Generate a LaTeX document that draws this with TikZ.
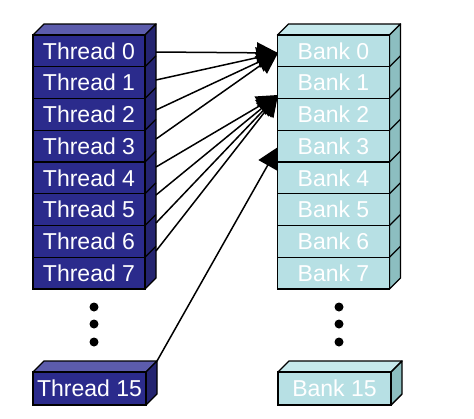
\documentclass[tikz,border=0pt]{standalone}
\usepackage{fontspec}
\setmainfont{Liberation Sans}
\usetikzlibrary{arrows.meta}
\definecolor{thfront}{RGB}{43,43,140}
\definecolor{thtop}{RGB}{92,92,172}
\definecolor{thside}{RGB}{36,36,112}
\definecolor{bkfront}{RGB}{183,224,228}
\definecolor{bktop}{RGB}{198,233,236}
\definecolor{bkside}{RGB}{140,190,192}
\begin{document}
\begin{tikzpicture}[x=1pt,y=-1pt,
  box/.style={draw=black,line width=1.4pt,minimum width=112pt,minimum height=31.75pt,inner sep=0pt,font=\fontsize{23}{23}\selectfont,text=white},
  thr/.style={box,fill=thfront},
  bnk/.style={box,fill=bkfront},
  face/.style={draw=black,line width=1.4pt,line join=round},
  conn/.style={line width=1.5pt,-{Triangle[length=21pt,width=21pt]}},
  dotn/.style={circle,fill=black,inner sep=0pt,minimum size=9pt}]
\useasboundingbox (0,0) rectangle (474,418);
% thread stack
\path[face,fill=thtop] (33,35) -- (44,24) -- (156,24) -- (145,35) -- cycle;
\path[face,fill=thside] (145,35) -- (156,24) -- (156,278) -- (145,289) -- cycle;
\foreach \i in {1,...,7} \draw[line width=1.4pt] (145,35+31.75*\i) -- (156,24+31.75*\i);
\node[thr] (t0) at (89,50.9) {Thread 0};
\node[thr] (t1) at (89,82.6) {Thread 1};
\node[thr] (t2) at (89,114.4) {Thread 2};
\node[thr] (t3) at (89,146.1) {Thread 3};
\node[thr] (t4) at (89,177.9) {Thread 4};
\node[thr] (t5) at (89,209.6) {Thread 5};
\node[thr] (t6) at (89,241.4) {Thread 6};
\node[thr] (t7) at (89,273.1) {Thread 7};
% bank stack
\path[face,fill=bktop] (277.5,35) -- (288.5,24) -- (400.5,24) -- (389.5,35) -- cycle;
\path[face,fill=bkside] (389.5,35) -- (400.5,24) -- (400.5,278) -- (389.5,289) -- cycle;
\foreach \i in {1,...,7} \draw[line width=1.4pt] (389.5,35+31.75*\i) -- (400.5,24+31.75*\i);
\node[bnk] (b0) at (333.5,50.9) {Bank 0};
\node[bnk] (b1) at (333.5,82.6) {Bank 1};
\node[bnk] (b2) at (333.5,114.4) {Bank 2};
\node[bnk] (b3) at (333.5,146.1) {Bank 3};
\node[bnk] (b4) at (333.5,177.9) {Bank 4};
\node[bnk] (b5) at (333.5,209.6) {Bank 5};
\node[bnk] (b6) at (333.5,241.4) {Bank 6};
\node[bnk] (b7) at (333.5,273.1) {Bank 7};
% thread 15
\path[face,fill=thtop] (33,372) -- (44,361) -- (157,361) -- (146,372) -- cycle;
\path[face,fill=thside] (146,372) -- (157,361) -- (157,394) -- (146,405) -- cycle;
\node[thr,minimum width=113pt,minimum height=33pt] (t15) at (89.5,388.5) {Thread 15};
% bank 15
\path[face,fill=bktop] (278,372) -- (289,361) -- (402,361) -- (391,372) -- cycle;
\path[face,fill=bkside] (391,372) -- (402,361) -- (402,394) -- (391,405) -- cycle;
\node[bnk,minimum width=113pt,minimum height=33pt] (b15) at (334.5,388.5) {Bank 15};
% dots
\foreach \y [count=\k] in {307,324,342} {
  \node[dotn] (td\k) at (94,\y) {};
  \node[dotn] (bd\k) at (339,\y) {};
}
% connectors
\coordinate (s0) at (156,52);
\coordinate (s1) at (156,80);
\coordinate (s2) at (156,110);
\coordinate (s3) at (156,139);
\coordinate (s4) at (156,167);
\coordinate (s5) at (156,195);
\coordinate (s6) at (156,223);
\coordinate (s7) at (156,251);
\coordinate (s15) at (157,361);
\coordinate (a1) at (278,53);
\coordinate (a2) at (278,95);
\coordinate (a3) at (278,147);
\foreach \i in {0,1,2,3} \draw[conn] (s\i) -- (a1);
\foreach \i in {4,5,6,7} \draw[conn] (s\i) -- (a2);
\draw[conn] (s15) -- (a3);
\end{tikzpicture}
\end{document}
